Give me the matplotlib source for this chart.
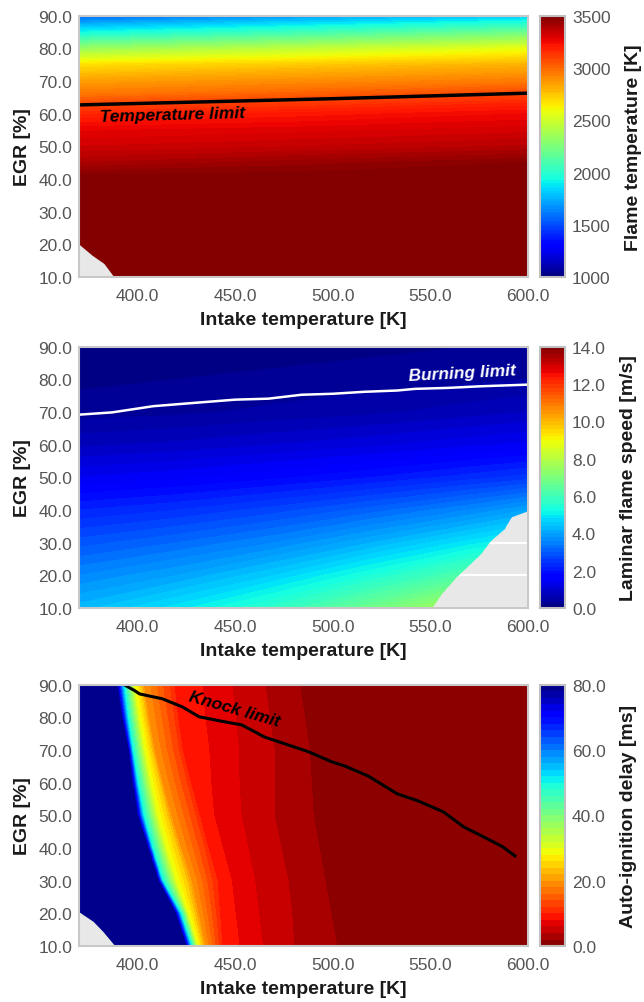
import numpy as np
import matplotlib
matplotlib.use('Agg')
import matplotlib.pyplot as plt
from matplotlib.patches import Polygon

plt.rcParams['font.family'] = ['Liberation Sans', 'DejaVu Sans']

# ------------------------- 坐标轴 -------------------------
x_ticks = [400, 450, 500, 550, 600]
y_ticks = [10, 20, 30, 40, 50, 60, 70, 80, 90]

# ------------------------- 图1 火焰温度 -------------------------
ft_T = [370, 485, 600]
ft_egr = [10, 40, 45, 50, 55, 60, 63, 66, 70, 75, 80, 85, 88, 90]
ft_val = [
    [3500, 3500, 3500],
    [3500, 3500, 3500],
    [3400, 3440, 3475],
    [3325, 3350, 3380],
    [3270, 3290, 3315],
    [3170, 3210, 3250],
    [3080, 3130, 3185],
    [2960, 3020, 3090],
    [2850, 2900, 2950],
    [2680, 2740, 2800],
    [2330, 2450, 2575],
    [1920, 2060, 2200],
    [1700, 1830, 1960],
    [1550, 1680, 1800],
]
templim_T = [370, 500, 600]
templim_egr = [62.7, 64.6, 66.3]
gap1_T = [370, 377, 383, 388]
gap1_egr = [20, 16.5, 14, 10]

# ------------------------- 图2 层流火焰速度 -------------------------
ls_T = [370, 420, 470, 520, 570, 600]
ls_egr = [10, 20, 30, 40, 50, 60, 70, 80, 90]
ls_val = [
    [4.3, 4.9, 5.7, 6.8, 7.9, 8.4],
    [3.6, 4.0, 4.6, 5.4, 6.3, 6.8],
    [2.9, 3.2, 3.6, 4.2, 4.9, 5.3],
    [2.2, 2.4, 2.7, 3.1, 3.6, 4.0],
    [1.4, 1.55, 1.75, 2.0, 2.3, 2.5],
    [0.75, 0.85, 1.0, 1.15, 1.35, 1.45],
    [0.3, 0.35, 0.45, 0.55, 0.7, 0.8],
    [0.15, 0.2, 0.25, 0.3, 0.35, 0.4],
    [0.05, 0.05, 0.1, 0.15, 0.2, 0.25],
]
burn_T = [370, 387, 408, 433, 450, 467, 484, 500, 516, 533, 542, 559, 576, 600]
burn_egr = [69.2, 69.9, 71.8, 73.0, 73.8, 74.1, 75.3, 75.6, 76.2, 76.6, 77.1, 77.4, 77.9, 78.4]
gap2_T = [551, 556, 563.6, 569, 576, 581, 588, 591.7, 600]
gap2_egr = [10, 14.3, 19.5, 22.5, 26.5, 30.5, 34.1, 37.8, 39.6]

# ------------------------- 图3 自燃延迟 -------------------------
ign_egr = [10, 20, 30, 40, 50, 60, 70, 80, 90]
ign_delay = [80, 50, 30, 24, 20, 12, 10, 8, 6, 4, 2]   # ms, 各列对应的延迟值
ign_T = [   # 各延迟值出现的进气温度 [K]
    [424.5, 427.5, 430.5, 433, 434.5, 441.5, 443.2, 452, 464, 480, 502],
    [419, 422, 425.5, 429, 431, 440, 442, 450, 462, 479, 499],
    [410.2, 412.7, 419.4, 425, 427.5, 438, 440.7, 448, 460, 477, 496],
    [405, 407.5, 414.5, 420, 422, 434, 436, 443.5, 456.5, 473.5, 493],
    [399.5, 403, 410, 415, 417, 429.5, 431.5, 439, 453, 470, 490],
    [397, 400, 406.5, 411, 412.5, 425, 427, 437.5, 452, 470, 489],
    [394.9, 397.4, 403.4, 407, 408.5, 421, 422.9, 436.5, 451.7, 470, 488],
    [391.5, 395, 400.5, 404, 405.5, 418.5, 420.5, 434.5, 450, 467.5, 485.5],
    [389, 393, 398, 401.5, 403, 416, 418.6, 433, 448.3, 465.3, 483],
]
ign_600 = [0.6, 0.6, 0.5, 0.5, 0.4, 0.4, 0.3, 0.3, 0.3]
knock_T = [394, 398.5, 401, 412.7, 423, 431.5, 441.6, 453.4, 465, 475.5, 487.5, 499.5,
           505.8, 518, 533, 543.4, 556.6, 567, 577, 587, 593.3]
knock_egr = [89.7, 88.2, 87.2, 85.7, 83.2, 80.2, 79.0, 77.7, 74.0, 71.9, 69.5, 66.4,
             65.2, 62.1, 56.6, 54.5, 51.1, 46.5, 43.5, 40.4, 37.6]
gap3_T = [370, 377.5, 382.5, 388.5]
gap3_egr = [20.4, 17.4, 14.3, 10]

# ------------------------- 画图 -------------------------
fig = plt.figure(figsize=(6.44, 10.03), dpi=100)
ax_left, ax_w = 0.1227, 0.6972
cb_left, cb_w = 0.8385, 0.0388
bottoms = [0.7228, 0.3928, 0.0558]
ax_h = 0.2605
tick_col = '#555555'
lab_col = '#1a1a1a'


def style_axes(ax):
    ax.set_facecolor('#e8e8e8')
    ax.set_xlim(370, 600)
    ax.set_ylim(10, 90)
    ax.set_xticks(x_ticks)
    ax.set_yticks(y_ticks)
    ax.set_xticklabels(['%.1f' % t for t in x_ticks])
    ax.set_yticklabels(['%.1f' % t for t in y_ticks])
    ax.grid(True, color='white', lw=1.6)
    ax.set_axisbelow(True)
    ax.tick_params(length=0, labelsize=12.5, colors=tick_col)
    ax.tick_params(axis='x', pad=8)
    ax.tick_params(axis='y', pad=5)
    for s in ax.spines.values():
        s.set_edgecolor('#c8c8c8')
        s.set_linewidth(1.5)
    ax.set_xlabel('Intake temperature [K]', fontsize=14, fontweight='bold', color=lab_col, labelpad=6)
    ax.set_ylabel('EGR [%]', fontsize=14, fontweight='bold', color=lab_col, labelpad=5)


def domain_clip(ax, pts):
    return Polygon(pts, closed=True, transform=ax.transData, facecolor='none', edgecolor='none')


def add_cbar(cs, bottom, ticks, fmt, label):
    cax = fig.add_axes([cb_left, bottom, cb_w, ax_h])
    cb = fig.colorbar(cs, cax=cax, ticks=ticks)
    cb.ax.set_yticklabels([fmt % t for t in ticks])
    cb.outline.set_edgecolor('#c0c0c0')
    cb.outline.set_linewidth(1.5)
    cb.ax.tick_params(length=0, labelsize=12.5, colors=tick_col, pad=5)
    cb.set_label(label, fontsize=14, fontweight='bold', color=lab_col, labelpad=10)
    return cb


txt_kw = dict(fontsize=12.5, fontweight='bold', fontstyle='italic',
              rotation_mode='anchor', ha='left', va='center')

# 图1
ax1 = fig.add_axes([ax_left, bottoms[0], ax_w, ax_h])
style_axes(ax1)
X1, Y1 = np.meshgrid(ft_T, ft_egr)
cs1 = ax1.contourf(X1, Y1, np.array(ft_val), levels=np.linspace(1000, 3500, 101), cmap='jet')
pts1 = [(370, 90), (600, 90), (600, 10)] + list(zip(gap1_T[::-1], gap1_egr[::-1]))
cs1.set_clip_path(domain_clip(ax1, pts1))
ax1.plot(templim_T, templim_egr, color='black', lw=2.5)
ax1.text(380.7, 59.0, 'Temperature limit', color='black', rotation=1.6, **txt_kw)
add_cbar(cs1, bottoms[0], [1000, 1500, 2000, 2500, 3000, 3500], '%.0f', 'Flame temperature [K]')

# 图2
ax2 = fig.add_axes([ax_left, bottoms[1], ax_w, ax_h])
style_axes(ax2)
X2, Y2 = np.meshgrid(ls_T, ls_egr)
cs2 = ax2.contourf(X2, Y2, np.array(ls_val), levels=np.linspace(0, 14, 71), cmap='jet')
pts2 = [(370, 10), (370, 90), (600, 90)] + list(zip(gap2_T[::-1], gap2_egr[::-1]))
cs2.set_clip_path(domain_clip(ax2, pts2))
ax2.plot(burn_T, burn_egr, color='white', lw=1.8)
ax2.text(538.9, 81.2, 'Burning limit', color='white', rotation=3, **txt_kw)
add_cbar(cs2, bottoms[1], [0, 2, 4, 6, 8, 10, 12, 14], '%.1f', 'Laminar flame speed [m/s]')

# 图3
ax3 = fig.add_axes([ax_left, bottoms[2], ax_w, ax_h])
style_axes(ax3)
n3 = len(ign_egr)
X3 = np.column_stack([np.full(n3, 370.0), np.array(ign_T), np.full(n3, 600.0)])
Y3 = np.repeat(np.array(ign_egr, dtype=float)[:, None], X3.shape[1], axis=1)
Z3 = np.column_stack([np.full(n3, 80.0), np.tile(ign_delay, (n3, 1)), ign_600])
cs3 = ax3.contourf(X3, Y3, Z3, levels=np.linspace(0, 80, 41), cmap='jet_r')
pts3 = [(370, 90), (600, 90), (600, 10)] + list(zip(gap3_T[::-1], gap3_egr[::-1]))
cs3.set_clip_path(domain_clip(ax3, pts3))
ax3.plot(knock_T, knock_egr, color='black', lw=2.2)
ax3.text(426.4, 86.6, 'Knock limit', color='black', rotation=-16, **txt_kw)
add_cbar(cs3, bottoms[2], [0, 20, 40, 60, 80], '%.1f', 'Auto-ignition delay [ms]')

fig.savefig('out.png', dpi=100, facecolor='white')
